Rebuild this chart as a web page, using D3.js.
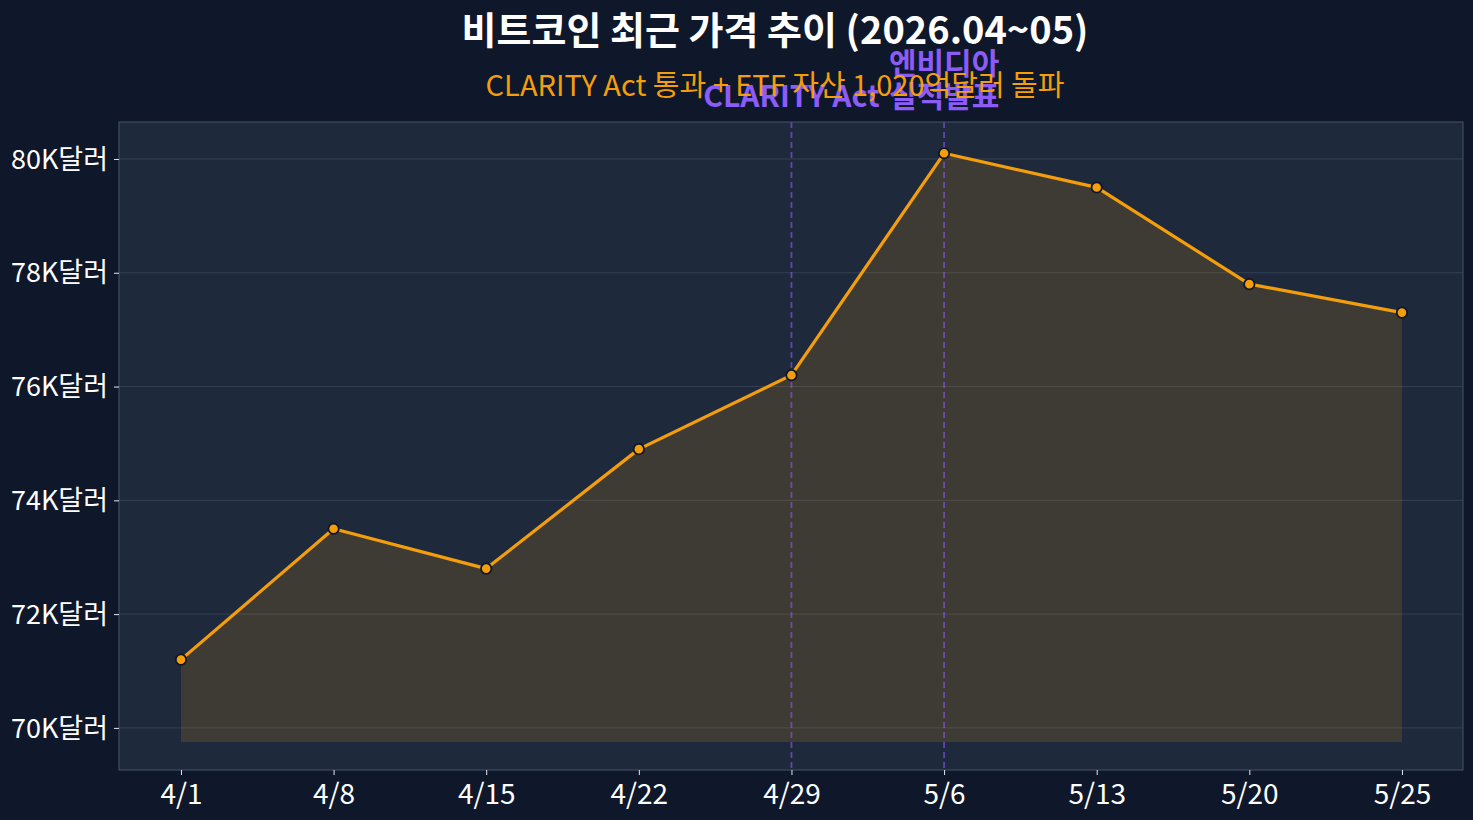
<!DOCTYPE html>
<html>
<head>
<meta charset="utf-8">
<script src="https://cdn.jsdelivr.net/npm/d3@7"></script>
<style>
  html, body { margin: 0; padding: 0; background: #0f172a; }
  svg text { font-family: "Noto Sans CJK KR", "Noto Sans", sans-serif; }
</style>
</head>
<body>
<div id="chart"></div>
<script>
// data
const dates = ['4/1', '4/8', '4/15', '4/22', '4/29', '5/6', '5/13', '5/20', '5/25']
const prices = [71.2, 73.5, 72.8, 74.9, 76.2, 80.1, 79.5, 77.8, 77.3]  // K달러
const yTicks = [70, 72, 74, 76, 78, 80]
const events = [
  {date: '4/29', label: ['CLARITY Act']},
  {date: '5/6', label: ['엔비디아', '실적발표']}
]
const titleText = '비트코인 최근 가격 추이 (2026.04~05)'
const subtitleText = 'CLARITY Act 통과 + ETF 자산 1,020억달러 돌파'
const fillBase = 69.75

// chart setting
const chart = {
  width: 1473,
  height: 820,
  left: 119,
  right: 1463,
  top: 122,
  bottom: 770
}

const svg = d3.select('#chart')
  .append('svg')
    .attr('width', chart.width)
    .attr('height', chart.height)

svg.append('rect')
  .attr('width', chart.width)
  .attr('height', chart.height)
  .attr('fill', '#0f172a')

const xScale = d3.scaleLinear()
  .domain([-0.406, dates.length - 1 + 0.4])
  .range([chart.left, chart.right])

const yScale = d3.scaleLinear()
  .domain([69.26, 80.65])
  .range([chart.bottom, chart.top])

// plot area
svg.append('rect')
  .attr('x', chart.left)
  .attr('y', chart.top)
  .attr('width', chart.right - chart.left)
  .attr('height', chart.bottom - chart.top)
  .attr('fill', '#1e293b')

// grid
svg.append('g')
  .selectAll('line')
  .data(yTicks)
  .join('line')
    .attr('x1', chart.left)
    .attr('x2', chart.right)
    .attr('y1', d => yScale(d))
    .attr('y2', d => yScale(d))
    .attr('stroke', '#334155')
    .attr('stroke-width', 1)

// area
const area = d3.area()
  .x((d, i) => xScale(i))
  .y0(yScale(fillBase))
  .y1(d => yScale(d))

svg.append('path')
  .datum(prices)
  .attr('d', area)
  .attr('fill', '#f59e0b')
  .attr('fill-opacity', 0.15)

// event lines
svg.append('g')
  .selectAll('line')
  .data(events)
  .join('line')
    .attr('x1', d => xScale(dates.indexOf(d.date)))
    .attr('x2', d => xScale(dates.indexOf(d.date)))
    .attr('y1', chart.top)
    .attr('y2', chart.bottom)
    .attr('stroke', '#8b5cf6')
    .attr('stroke-opacity', 0.6)
    .attr('stroke-width', 1.8)
    .attr('stroke-dasharray', '6,4')

// price line
const line = d3.line()
  .x((d, i) => xScale(i))
  .y(d => yScale(d))

svg.append('path')
  .datum(prices)
  .attr('d', line)
  .attr('fill', 'none')
  .attr('stroke', '#f59e0b')
  .attr('stroke-width', 3.2)
  .attr('stroke-linejoin', 'round')

svg.append('g')
  .selectAll('circle')
  .data(prices)
  .join('circle')
    .attr('cx', (d, i) => xScale(i))
    .attr('cy', d => yScale(d))
    .attr('r', 5.2)
    .attr('fill', '#f59e0b')
    .attr('stroke', '#0f172a')
    .attr('stroke-width', 1.8)

// frame
svg.append('rect')
  .attr('x', chart.left)
  .attr('y', chart.top)
  .attr('width', chart.right - chart.left)
  .attr('height', chart.bottom - chart.top)
  .attr('fill', 'none')
  .attr('stroke', '#475569')
  .attr('stroke-width', 1)

// axes
const yAxis = d3.axisLeft(yScale)
  .tickValues(yTicks)
  .tickSize(5)
  .tickPadding(6)
  .tickFormat(d => d + 'K달러')

const gy = svg.append('g')
  .attr('transform', `translate(${chart.left},0)`)
  .call(yAxis)
gy.select('.domain').remove()
gy.selectAll('line').attr('stroke', '#e2e8f0')
gy.selectAll('text')
  .attr('fill', '#ffffff')
  .attr('font-size', 27)
  .attr('dy', '0.34em')

const xAxis = d3.axisBottom(xScale)
  .tickValues(d3.range(dates.length))
  .tickSize(5)
  .tickPadding(8)
  .tickFormat(i => dates[i])

const gx = svg.append('g')
  .attr('transform', `translate(0,${chart.bottom})`)
  .call(xAxis)
gx.select('.domain').remove()
gx.selectAll('line').attr('stroke', '#e2e8f0')
gx.selectAll('text')
  .attr('fill', '#ffffff')
  .attr('font-size', 28)
  .attr('dy', '0.74em')

// event labels
const labels = svg.append('g')
  .selectAll('text')
  .data(events)
  .join('text')
    .attr('x', d => xScale(dates.indexOf(d.date)))
    .attr('text-anchor', 'middle')
    .attr('fill', '#8b5cf6')
    .attr('font-size', 30)
    .attr('font-weight', 'bold')

labels.selectAll('tspan')
  .data(d => d.label.map((t, i) => ({t, i, n: d.label.length})))
  .join('tspan')
    .attr('x', function () { return d3.select(this.parentNode).attr('x') })
    .attr('y', d => 107 - (d.n - 1 - d.i) * 33)
    .text(d => d.t)

// titles
svg.append('text')
  .attr('x', 775)
  .attr('y', 44)
  .attr('text-anchor', 'middle')
  .attr('fill', '#ffffff')
  .attr('font-size', 38)
  .attr('font-weight', 'bold')
  .text(titleText)

svg.append('text')
  .attr('x', 775)
  .attr('y', 96)
  .attr('text-anchor', 'middle')
  .attr('fill', '#f59e0b')
  .attr('font-size', 29)
  .text(subtitleText)
</script>
</body>
</html>
